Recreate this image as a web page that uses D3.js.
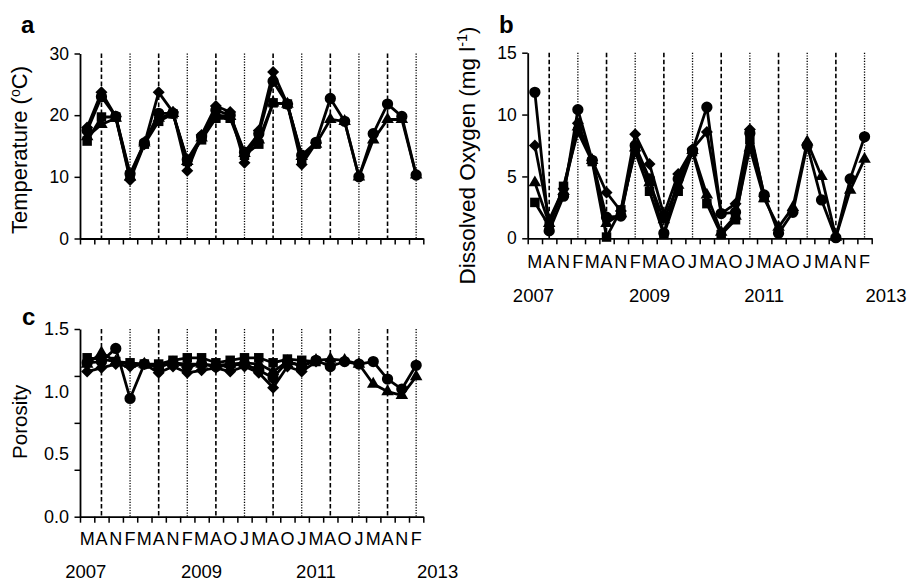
<!DOCTYPE html>
<html>
<head>
<meta charset="utf-8">
<script src="https://cdn.jsdelivr.net/npm/d3@7"></script>
<style>
  html, body { margin: 0; padding: 0; background: #fff; }
  svg { display: block; font-family: "Liberation Sans", Arial, sans-serif; }
</style>
</head>
<body>
<svg id="chart" width="910" height="582"></svg>
<script>
// Sampling occasions (month initials) and the years marked beneath them
const sampleMonths = ["M","A","N","F","M","A","N","F","M","A","O","J","M","A","O","J","M","A","O","J","M","A","N","F"];
const yearLabels = ["2007", "2009", "2011", "2013"];

// (a) Temperature, °C, one array per site
const tempCircle   = [17.5, 23.0, 19.8, 10.5, 15.5, 20.3, 20.3, 12.8, 16.5, 20.8, 20.0, 14.0, 17.0, 25.5, 21.8, 13.5, 15.6, 22.7, 19.0, 10.0, 17.0, 21.8, 19.8, 10.3];
const tempDiamond  = [18.0, 23.7, 19.8,  9.5, 15.3, 23.7, 20.5, 11.0, 16.8, 21.5, 20.5, 12.3, 17.5, 27.0, 21.8, 12.0, 15.5, null, null, null, null, null, null, null];
const tempSquare   = [15.8, 19.7, 19.7, 10.3, 15.3, 19.0, 20.2, 12.5, 16.0, 19.5, 19.5, 13.5, 15.3, 22.0, 21.8, 13.0, 15.3, null, null, null, null, null, null, null];
const tempTriangle = [16.5, 18.5, 19.5, 10.0, 15.5, 19.5, 20.3, 12.5, 16.3, 20.0, 19.8, 13.8, 16.0, 22.0, 21.8, 13.3, 15.3, 19.3, 19.0, 10.0, 16.0, 19.3, 19.3, 10.3];

// (b) Dissolved oxygen, mg/l
const oxyCircle   = [11.8, 0.6, 3.4, 10.4, 6.3, 1.7, 1.8, 7.5, 4.8, 0.4, 4.8, 7.1, 10.6, 2.0, 2.1, 8.5, 3.5, 0.4, 2.1, 7.5, 3.1, 0.05, 4.8, 8.2];
const oxyDiamond  = [7.5, 1.5, 4.0, 9.3, 6.3, 3.7, 2.2, 8.4, 6.0, 1.9, 5.2, 7.2, 8.6, 2.0, 2.8, 8.8, 3.4, null, null, null, null, null, null, null];
const oxySquare   = [2.9, 1.0, 4.2, 8.6, 6.2, 0.1, 2.3, 7.0, 3.8, 0.3, 3.8, 7.0, 2.8, 0.3, 1.5, 8.0, 3.3, null, null, null, null, null, null, null];
const oxyTriangle = [4.5, 1.2, 3.8, 9.0, 6.3, 1.2, 2.0, 7.3, 4.5, 1.5, 4.3, 7.1, 3.5, 0.5, 1.8, 7.3, 3.2, 0.9, 2.5, 7.8, 5.0, 0.1, 3.9, 6.4];

// (c) Porosity
const porCircle   = [1.23, 1.24, 1.345, 0.945, 1.22, 1.20, 1.23, 1.20, 1.22, 1.20, 1.21, 1.22, 1.17, 1.11, 1.24, 1.20, 1.25, 1.20, 1.24, 1.22, 1.24, 1.10, 1.02, 1.21];
const porDiamond  = [1.16, 1.19, 1.22, 1.20, 1.22, 1.15, 1.20, 1.15, 1.17, 1.19, 1.16, 1.20, 1.15, 1.03, 1.20, 1.16, 1.24, null, null, null, null, null, null, null];
const porSquare   = [1.27, 1.26, 1.24, 1.23, 1.22, 1.22, 1.25, 1.27, 1.27, 1.23, 1.25, 1.27, 1.27, 1.23, 1.26, 1.25, 1.24, null, null, null, null, null, null, null];
const porTriangle = [1.22, 1.31, 1.24, 1.22, 1.22, 1.20, 1.23, 1.22, 1.22, 1.21, 1.22, 1.23, 1.22, 1.16, 1.24, 1.21, 1.25, 1.26, 1.25, 1.22, 1.06, 1.00, 0.97, 1.12];

// y-axis ticks and labels per panel
const tempTicks = [0, 10, 20, 30];
const oxyTicks = [0, 5, 10, 15];
const porTicks = [0, 0.375, 0.75, 1.125, 1.5];
const porTickLabels = [0, 0.5, 1.0, 1.5];

// reference lines: dashed at every "A" sample, dotted midway between them
const dashedAt = [1, 5, 9, 13, 17, 21];
const dottedAt = [3, 7, 11, 15, 19, 23];

const FONT = '"Liberation Sans", Arial, sans-serif';
const svg = d3.select("#chart");

const markerShapes = {
  triangle: d3.symbol().type(d3.symbolTriangle).size(68),
  square:   d3.symbol().type(d3.symbolSquare).size(90),
  diamond:  d3.symbol().type(d3.symbolSquare).size(72),
  circle:   d3.symbol().type(d3.symbolCircle).size(100)
};

function drawPanel(p) {
  const g = svg.append("g");
  const x = d3.scaleLinear().domain([0, sampleMonths.length]).range([p.left, p.right]);
  const y = d3.scaleLinear().domain(p.domain).range([p.bottom, p.top]);
  const cx = i => x(i + 0.5);

  // vertical reference lines
  g.selectAll("line.dash").data(dashedAt).join("line")
    .attr("x1", d => cx(d)).attr("x2", d => cx(d))
    .attr("y1", p.top).attr("y2", p.bottom)
    .attr("stroke", "#000").attr("stroke-width", 1.6).attr("stroke-dasharray", "4.5,2.5");
  g.selectAll("line.dot").data(dottedAt).join("line")
    .attr("x1", d => cx(d)).attr("x2", d => cx(d))
    .attr("y1", p.top).attr("y2", p.bottom)
    .attr("stroke", "#000").attr("stroke-width", 1.3).attr("stroke-dasharray", "1.2,1.5");

  // series lines and markers
  const line = d3.line().defined(d => d != null).x((d, i) => cx(i)).y(d => y(d));
  p.series.forEach(s => {
    g.append("path").datum(s.values)
      .attr("d", line).attr("fill", "none")
      .attr("stroke", "#000").attr("stroke-width", 2.8).attr("stroke-linejoin", "round");
  });
  p.series.forEach(s => {
    const pts = s.values.map((v, i) => ({ v, i })).filter(d => d.v != null);
    g.selectAll(null).data(pts).join("path")
      .attr("d", markerShapes[s.shape])
      .attr("transform", d => `translate(${cx(d.i)},${y(d.v)})` + (s.shape === "diamond" ? " rotate(45)" : ""))
      .attr("fill", "#000");
  });

  // x axis: tick marks between sampling occasions
  const xAxis = d3.axisBottom(x).tickValues(d3.range(sampleMonths.length + 1))
    .tickFormat("").tickSizeInner(6).tickSizeOuter(0);
  const gx = g.append("g").attr("transform", `translate(0,${p.bottom})`).call(xAxis);
  gx.select(".domain").attr("stroke-width", 1.8);
  gx.selectAll(".tick line").attr("stroke-width", 1.5);

  // y axis
  const yAxis = d3.axisLeft(y).tickValues(p.ticks).tickSizeInner(5.5).tickSizeOuter(0)
    .tickFormat(p.tickLabels ? "" : d3.format(p.fmt));
  const gy = g.append("g").attr("transform", `translate(${p.left},0)`).call(yAxis);
  gy.select(".domain").attr("stroke-width", 1.8);
  gy.selectAll(".tick line").attr("stroke-width", 1.5);
  gy.selectAll("text").attr("font-family", FONT).attr("font-size", p.tickFont).attr("fill", "#000").attr("x", -11);
  if (p.tickLabels) {
    const gl = g.append("g").attr("transform", `translate(${p.left},0)`)
      .call(d3.axisLeft(y).tickValues(p.tickLabels).tickSize(0).tickPadding(11).tickFormat(d3.format(p.fmt)));
    gl.select(".domain").remove();
    gl.selectAll("text").attr("font-family", FONT).attr("font-size", p.tickFont).attr("fill", "#000");
  }

  // month and year labels
  if (p.monthLabels) {
    g.selectAll("text.month").data(sampleMonths).join("text")
      .attr("x", (d, i) => cx(i)).attr("y", p.bottom + p.monthOffset)
      .attr("text-anchor", "middle").attr("font-family", FONT).attr("font-size", 18)
      .text(d => d);
    const yearIdx = [0.4, 8.5, 16.5, 25];
    g.selectAll("text.year").data(yearLabels).join("text")
      .attr("x", (d, i) => x(yearIdx[i])).attr("y", p.bottom + p.yearOffset)
      .attr("text-anchor", "middle").attr("font-family", FONT).attr("font-size", 18.5)
      .text(d => d);
  }

  // axis title
  const t = g.append("text")
    .attr("transform", `translate(${p.left - 53},${(p.top + p.bottom) / 2 + p.titleShift}) rotate(-90)`)
    .attr("text-anchor", "middle").attr("font-family", FONT).attr("font-size", p.titleFont);
  p.title.forEach(part => {
    const ts = t.append("tspan").text(part.text);
    if (part.sup) ts.attr("font-size", p.titleFont * 0.64).attr("dy", -7.5);
    else if (part.after) ts.attr("dy", 7.5);
  });

  // panel letter
  g.append("text").attr("x", p.letterX).attr("y", p.letterY)
    .attr("font-family", FONT).attr("font-weight", "bold").attr("font-size", 24)
    .text(p.letter);
}

drawPanel({
  letter: "a", letterX: 21, letterY: 33,
  left: 80, right: 423.3, top: 53.5, bottom: 238.5,
  domain: [0, 30], ticks: tempTicks, fmt: "d", tickFont: 17.5,
  monthLabels: false, titleShift: 4, titleFont: 22,
  title: [{ text: "Temperature (" }, { text: "o", sup: true }, { text: "C)", after: true }],
  series: [
    { shape: "triangle", values: tempTriangle },
    { shape: "square", values: tempSquare },
    { shape: "diamond", values: tempDiamond },
    { shape: "circle", values: tempCircle }
  ]
});

drawPanel({
  letter: "b", letterX: 499, letterY: 33,
  left: 527.7, right: 871.7, top: 52.7, bottom: 238.3,
  domain: [0, 15], ticks: oxyTicks, fmt: "d", tickFont: 17.5,
  monthLabels: true, monthOffset: 30, yearOffset: 63.3, titleShift: 10, titleFont: 22.5,
  title: [{ text: "Dissolved Oxygen (mg l" }, { text: "-1", sup: true }, { text: ")", after: true }],
  series: [
    { shape: "triangle", values: oxyTriangle },
    { shape: "square", values: oxySquare },
    { shape: "diamond", values: oxyDiamond },
    { shape: "circle", values: oxyCircle }
  ]
});

drawPanel({
  letter: "c", letterX: 22, letterY: 325,
  left: 80, right: 423.3, top: 329, bottom: 516.7,
  domain: [0, 1.5], ticks: porTicks, tickLabels: porTickLabels, fmt: ".1f", tickFont: 18,
  monthLabels: true, monthOffset: 28, yearOffset: 61.3, titleShift: -1, titleFont: 20.5,
  title: [{ text: "Porosity" }],
  series: [
    { shape: "triangle", values: porTriangle },
    { shape: "square", values: porSquare },
    { shape: "diamond", values: porDiamond },
    { shape: "circle", values: porCircle }
  ]
});
</script>
</body>
</html>
